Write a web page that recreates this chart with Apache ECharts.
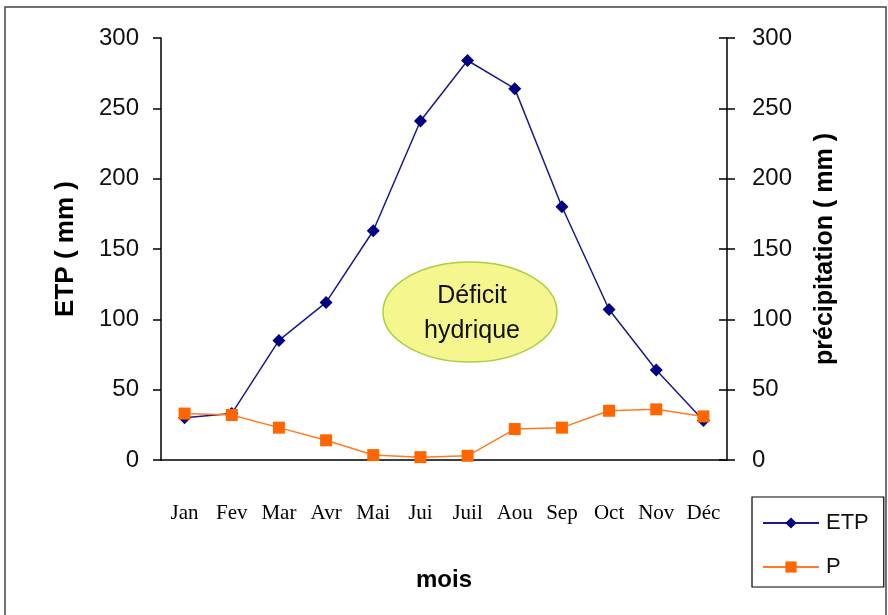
<!DOCTYPE html>
<html>
<head>
<meta charset="utf-8">
<script src="https://cdn.jsdelivr.net/npm/echarts@6/dist/echarts.min.js"></script>
<style>
  html, body { margin: 0; padding: 0; background: #fff; }
  #chart { width: 888px; height: 615px; }
</style>
</head>
<body>
<div id="chart"></div>
<script>
// data
const mois = ['Jan', 'Fev', 'Mar', 'Avr', 'Mai', 'Jui', 'Juil', 'Aou', 'Sep', 'Oct', 'Nov', 'Déc'];
const etp = [30, 33, 85, 112, 163, 241, 284, 264, 180, 107, 64, 28];
const precip = [33, 32, 23, 14, 3.5, 2, 3, 22, 23, 35, 36, 31];
const seriesNames = ['ETP', 'P'];

let myChart = echarts.init(document.getElementById('chart'));

const sans = 'Liberation Sans, Arial, sans-serif';

let option = {
  backgroundColor: '#fff',
  animation: false,
  grid: { left: 161, right: 161, top: 38, bottom: 155 },
  legend: {
    left: 752,
    top: 497,
    orient: 'vertical',
    borderColor: '#000',
    borderWidth: 1.2,
    padding: [15, 15, 9, 10],
    itemGap: 22,
    itemWidth: 56,
    itemHeight: 14,
    textStyle: { fontFamily: sans, fontSize: 22, color: '#111', padding: [0, 0, 0, 2] },
    data: seriesNames
  },
  xAxis: {
    type: 'category',
    data: mois,
    boundaryGap: true,
    axisLine: { lineStyle: { color: '#000', width: 1.5 } },
    axisTick: { length: 6, lineStyle: { color: '#000', width: 1.5 } },
    axisLabel: {
      interval: 0, hideOverlap: false, margin: 43,
      fontFamily: 'Liberation Serif, Times New Roman, serif', fontSize: 21, color: '#000'
    },
    name: 'mois',
    nameLocation: 'middle',
    nameGap: 108,
    nameTextStyle: { fontFamily: sans, fontSize: 24, fontWeight: 'bold', color: '#000' }
  },
  yAxis: [
    {
      type: 'value', min: 0, max: 300, interval: 50, position: 'left',
      axisLine: { show: true, lineStyle: { color: '#000', width: 1.5 } },
      axisTick: { show: true, length: 8, lineStyle: { color: '#000', width: 1.5 } },
      axisLabel: { margin: 22, fontFamily: sans, fontSize: 24, color: '#111' },
      splitLine: { show: false },
      name: 'ETP ( mm )',
      nameLocation: 'middle',
      nameGap: 82,
      nameTextStyle: { fontFamily: sans, fontSize: 26, fontWeight: 'bold', color: '#000' }
    },
    {
      type: 'value', min: 0, max: 300, interval: 50, position: 'right',
      axisLine: { show: true, lineStyle: { color: '#000', width: 1.5 } },
      axisTick: { show: true, length: 8, lineStyle: { color: '#000', width: 1.5 } },
      axisLabel: { margin: 25, fontFamily: sans, fontSize: 24, color: '#111' },
      splitLine: { show: false },
      name: 'précipitation ( mm )',
      nameLocation: 'middle',
      nameGap: 86,
      nameRotate: 90,
      nameTextStyle: { fontFamily: sans, fontSize: 25, fontWeight: 'bold', color: '#000' }
    },
    {
      // inner half of the crossing ticks on the right axis
      type: 'value', min: 0, max: 300, interval: 50, position: 'right',
      axisLine: { show: false },
      axisTick: { show: true, inside: true, length: 8, lineStyle: { color: '#000', width: 1.5 } },
      axisLabel: { show: false },
      splitLine: { show: false }
    }
  ],
  graphic: [
    {
      type: 'rect', z: -1, silent: true,
      shape: { x: 5, y: 7, width: 881, height: 620 },
      style: { fill: 'none', stroke: '#444', lineWidth: 1.5 }
    },
    {
      type: 'ellipse', z: 1,
      shape: { cx: 470, cy: 312, rx: 87, ry: 50 },
      style: { fill: '#f6f68e', stroke: '#a8d040', lineWidth: 1.5 }
    },
    {
      type: 'text', z: 2,
      x: 472, y: 314,
      style: {
        text: 'Déficit\nhydrique',
        align: 'center',
        verticalAlign: 'middle',
        font: '25px Liberation Sans, Arial, sans-serif',
        lineHeight: 35,
        fill: '#111'
      }
    }
  ],
  series: [
    {
      name: seriesNames[0], type: 'line', yAxisIndex: 0, data: etp,
      symbol: 'diamond', symbolSize: 13,
      itemStyle: { color: '#000080' },
      lineStyle: { color: '#1a1a8c', width: 1.5 },
      z: 3
    },
    {
      name: seriesNames[1], type: 'line', yAxisIndex: 0, data: precip,
      symbol: 'rect', symbolSize: 12,
      itemStyle: { color: '#ff6600' },
      lineStyle: { color: '#ff7a22', width: 1.5 },
      z: 4
    }
  ]
};

myChart.setOption(option);
</script>
</body>
</html>
